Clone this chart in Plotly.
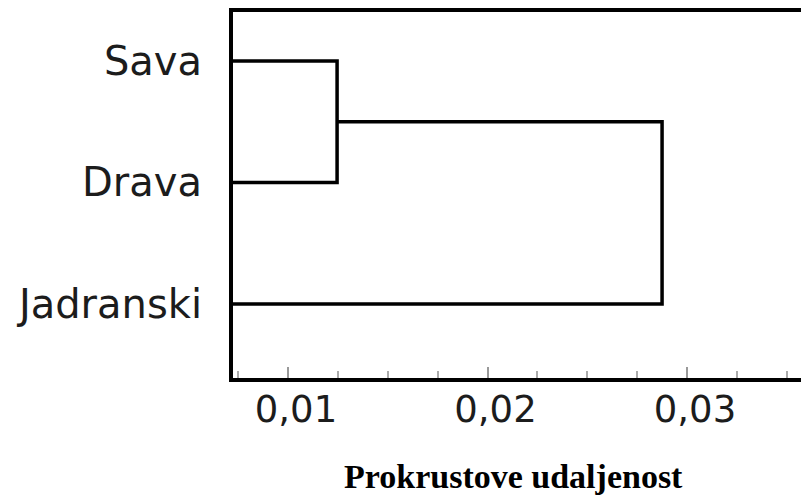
import plotly.graph_objects as go

# Data
leaves = ["Sava", "Drava", "Jadranski"]
leaf_pos = [1, 2, 3]
merge_heights = [0.01246, 0.02875]   # Sava+Drava, (Sava,Drava)+Jadranski
tick_vals = [0.01, 0.02, 0.03]
tick_text = ["0,01", "0,02", "0,03"]
x_title = "Prokrustove udaljenost"

fig = go.Figure()

# Build dendrogram links (U-shapes) from the merge heights
h1, h2 = merge_heights
y_sava, y_drava, y_jad = leaf_pos
y_c1 = (y_sava + y_drava) / 2
links = [
    ([0, h1, h1, 0], [y_sava, y_sava, y_drava, y_drava]),
    ([h1, h2, h2, 0], [y_c1, y_c1, y_jad, y_jad]),
]
for xs, ys in links:
    fig.add_trace(go.Scatter(x=xs, y=ys, mode="lines",
                             line=dict(color="black", width=3.5),
                             showlegend=False, hoverinfo="skip"))

# page body has an 8px margin, so the figure is sized/offset to compensate
fig.update_layout(
    width=801, height=489,
    margin=dict(l=225, r=0, t=4, b=119),
    plot_bgcolor="white", paper_bgcolor="white",
    font=dict(family="DejaVu Sans", color="#1c1c1c"),
)
fig.update_xaxes(
    automargin=False,
    range=[0.007243, 0.036115],
    tickvals=tick_vals, ticktext=tick_text,
    tickfont=dict(size=37, family="DejaVu Sans", color="#1c1c1c"),
    ticks="inside", ticklen=11, tickwidth=1.5, tickcolor="#999999",
    minor=dict(ticks="inside", ticklen=7, tickwidth=1.5, tickcolor="#aaaaaa",
               dtick=0.0025, tick0=0),
    ticklabelstandoff=-4, ticklabelshift=8,
    showline=True, linecolor="black", linewidth=4, mirror=True,
    showgrid=False, zeroline=False,
)
fig.update_yaxes(
    automargin=False,
    range=[3.609, 0.597],
    tickvals=leaf_pos, ticktext=leaves,
    tickfont=dict(size=40, family="DejaVu Sans", color="#1c1c1c"),
    ticks="", ticklabelstandoff=19,
    showline=True, linecolor="black", linewidth=4, mirror=False,
    showgrid=False, zeroline=False,
)
fig.add_annotation(
    text=x_title, xref="paper", yref="paper",
    x=(513 - 233) / 576, y=(378 - 476) / 366,
    xanchor="center", yanchor="middle", showarrow=False,
    font=dict(family="Liberation Serif", size=34, color="black", weight="bold"),
)

fig.write_html("out.html")
